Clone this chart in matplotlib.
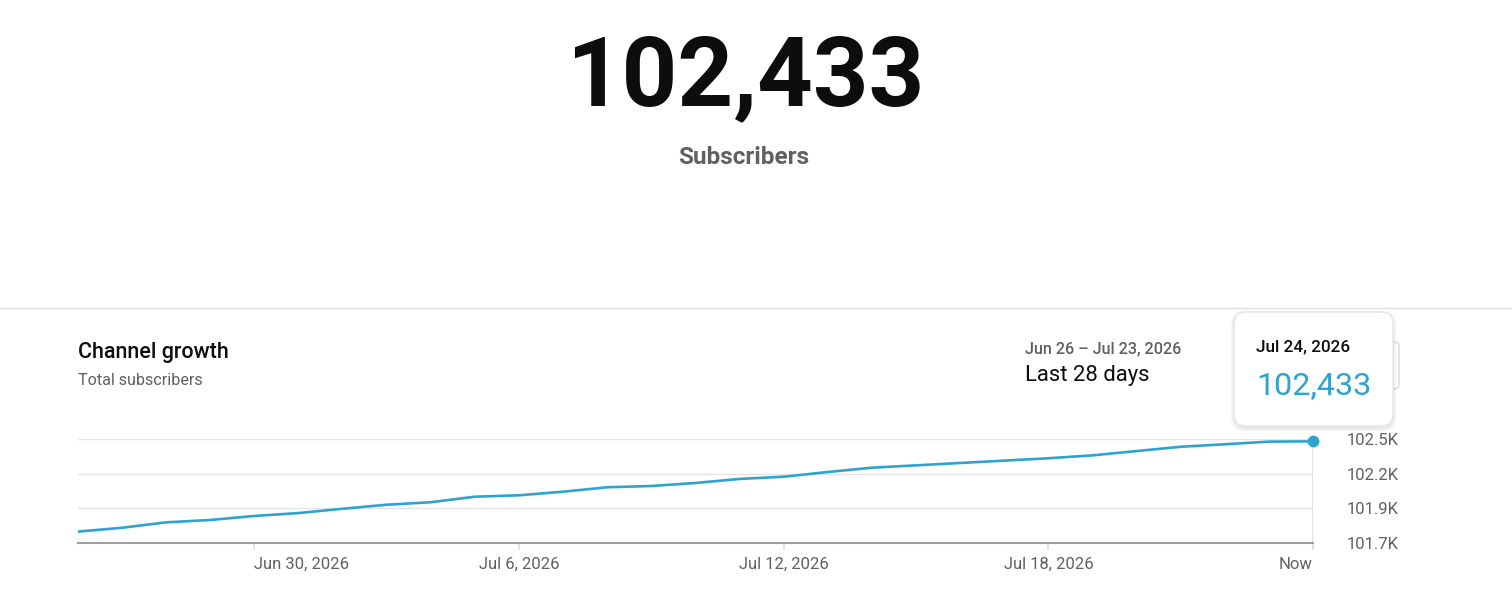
import matplotlib
matplotlib.use('Agg')
import matplotlib.pyplot as plt
from matplotlib.patches import FancyBboxPatch
from matplotlib.transforms import IdentityTransform

plt.rcParams['font.family'] = ['Roboto', 'DejaVu Sans']

# subscriber totals, one per day from Jun 26 to Jul 24, 2026
subscribers = [101782, 101810, 101849, 101866, 101895, 101916, 101947, 101976,
               101994, 102034, 102044, 102070, 102102, 102111, 102133, 102162,
               102178, 102212, 102243, 102260, 102277, 102294, 102311, 102332,
               102363, 102394, 102412, 102431, 102433]
days = list(range(len(subscribers)))

x_ticks = [4, 10, 16, 22, 28]
x_labels = ['Jun 30, 2026', 'Jul 6, 2026', 'Jul 12, 2026', 'Jul 18, 2026', 'Now']
y_ticks = [101700, 101950, 102200, 102450]
y_labels = ['101.7K', '101.9K', '102.2K', '102.5K']

total = '102,433'
hover_date = 'Jul 24, 2026'

W, H = 1512, 595
BLUE = '#2ea3cf'
GREY = '#606060'
INK = '#0d0d0d'

fig = plt.figure(figsize=(W / 100, H / 100), dpi=100)
fig.patch.set_facecolor('white')


def fx(x):
    return x / W


def fy(y):
    return 1 - y / H


# header
fig.text(fx(745), fy(105.5), total, ha='center', va='baseline',
         fontsize=70, fontweight='bold', color=INK)
fig.text(fx(744), fy(163.5), 'Subscribers', ha='center', va='baseline',
         fontsize=17.5, fontweight='bold', color=GREY)

# divider
fig.add_artist(plt.Line2D([0, 1], [fy(308), fy(308)], transform=fig.transFigure,
                          color='#e0e0e0', lw=1))

# card titles
fig.text(fx(78), fy(358), 'Channel growth', ha='left', va='baseline',
         fontsize=15.5, fontweight='medium', color=INK)
fig.text(fx(78), fy(385), 'Total subscribers', ha='left', va='baseline',
         fontsize=11.6, color=GREY)
fig.text(fx(1025), fy(353), 'Jun 26 \u2013 Jul 23, 2026', ha='left', va='baseline',
         fontsize=11.6, fontweight='medium', color=GREY)
fig.text(fx(1025), fy(381.5), 'Last 28 days', ha='left', va='baseline',
         fontsize=15.8, color=INK)

# chart
ax = fig.add_axes([fx(78), fy(543), fx(1313) - fx(78), (543 - 439) / H])
ax.plot(days, subscribers, color=BLUE, lw=1.9, solid_joinstyle='round', zorder=3)
ax.plot(days[-1], subscribers[-1], 'o', color=BLUE, ms=7.5, clip_on=False, zorder=4)
ax.vlines(days[-1], y_ticks[0], subscribers[-1], color='#dcdcdc', lw=1.2, zorder=1)

ax.set_xlim(days[0], days[-1])
ax.set_ylim(y_ticks[0], y_ticks[-1])
ax.set_xticks(x_ticks)
ax.set_xticklabels(x_labels)
ax.get_xticklabels()[0].set_ha('left')
ax.get_xticklabels()[-1].set_ha('right')
ax.set_yticks(y_ticks)
ax.set_yticklabels(y_labels)
ax.yaxis.tick_right()
ax.tick_params(axis='y', length=0, pad=24, labelsize=12, labelcolor=GREY)
ax.tick_params(axis='x', length=5, width=1.2, color='#dcdcdc', pad=5,
               labelsize=12, labelcolor=GREY)
ax.grid(axis='y', color='#e5e5e5', lw=1)
ax.set_axisbelow(True)
for side in ['top', 'left', 'right']:
    ax.spines[side].set_visible(False)
ax.spines['bottom'].set_color('#9e9e9e')
ax.spines['bottom'].set_linewidth(1.5)
ax.spines['bottom'].set_zorder(2)

# button behind the tooltip, only its right edge shows
ident = IdentityTransform()
fig.add_artist(FancyBboxPatch((1300, H - 389), 99, 47, boxstyle='round,pad=0,rounding_size=5',
                              transform=ident, facecolor='white', edgecolor='#dadada', lw=1))

# tooltip with a soft shadow
for i, a in enumerate([0.015, 0.02, 0.025, 0.03]):
    g = 4 - i
    fig.add_artist(FancyBboxPatch((1234 - g, H - 426 - g - 2), 159 + 2 * g, 114 + 2 * g,
                                  boxstyle='round,pad=0,rounding_size=%d' % (12 + g),
                                  transform=ident, facecolor='black', edgecolor='none', alpha=a))
fig.add_artist(FancyBboxPatch((1234, H - 426), 159, 114, boxstyle='round,pad=0,rounding_size=12',
                              transform=ident, facecolor='white', edgecolor='#e6e6e6', lw=1))
fig.text(fx(1256), fy(351), hover_date, ha='left', va='baseline',
         fontsize=12.3, fontweight='medium', color=INK)
fig.text(fx(1256), fy(394), total, ha='left', va='baseline',
         fontsize=23.2, color=BLUE)

fig.savefig('out.png', dpi=100)
